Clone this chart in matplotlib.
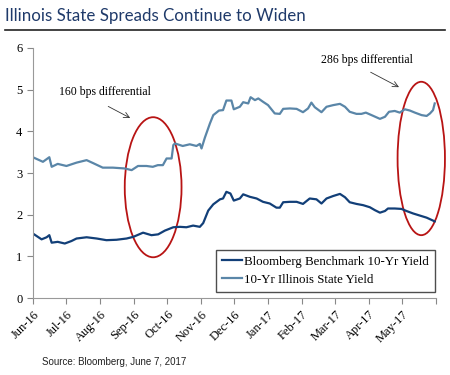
import matplotlib
matplotlib.use("Agg")
import matplotlib.pyplot as plt
from matplotlib.patches import Ellipse
from matplotlib.lines import Line2D

# x in months since Jun-16
months = ['Jun-16', 'Jul-16', 'Aug-16', 'Sep-16', 'Oct-16', 'Nov-16',
          'Dec-16', 'Jan-17', 'Feb-17', 'Mar-17', 'Apr-17', 'May-17']

bench_x = [0, 0.26, 0.41, 0.49, 0.56, 0.74, 0.95, 1.15, 1.30, 1.60,
           1.90, 2.19, 2.49, 2.79, 2.99, 3.28, 3.53, 3.73, 3.93, 4.18,
           4.38, 4.57, 4.77, 4.97, 5.07, 5.22, 5.37, 5.57, 5.66, 5.76,
           5.88, 5.98, 6.16, 6.26, 6.46, 6.66, 6.85, 7.05, 7.25, 7.35,
           7.45, 7.65, 7.85, 8.04, 8.24, 8.44, 8.59, 8.74, 8.94, 9.14,
           9.29, 9.43, 9.63, 9.83, 10.03, 10.18, 10.33, 10.48, 10.57, 10.77,
           10.97, 11.12, 11.32, 11.52, 11.72, 11.91, 11.96]
bench_y = [1.55, 1.41, 1.46, 1.51, 1.33, 1.35, 1.31, 1.37, 1.43, 1.46,
           1.43, 1.39, 1.40, 1.43, 1.47, 1.57, 1.51, 1.53, 1.62, 1.70,
           1.71, 1.70, 1.74, 1.71, 1.80, 2.10, 2.25, 2.37, 2.39, 2.55,
           2.51, 2.34, 2.39, 2.49, 2.43, 2.39, 2.31, 2.27, 2.17, 2.17,
           2.30, 2.31, 2.31, 2.26, 2.39, 2.37, 2.27, 2.39, 2.45, 2.50,
           2.42, 2.30, 2.26, 2.23, 2.18, 2.11, 2.05, 2.09, 2.15, 2.15,
           2.14, 2.09, 2.03, 1.98, 1.93, 1.86, 1.84]

il_x = [0, 0.30, 0.49, 0.56, 0.74, 1.00, 1.30, 1.60, 1.79, 2.08,
        2.38, 2.74, 2.94, 3.13, 3.38, 3.57, 3.72, 3.87, 3.98, 4.13,
        4.18, 4.23, 4.46, 4.67, 4.87, 4.97, 5.02, 5.12, 5.27, 5.37,
        5.54, 5.66, 5.76, 5.91, 5.98, 6.16, 6.26, 6.41, 6.48, 6.61,
        6.71, 6.85, 7.00, 7.20, 7.35, 7.45, 7.65, 7.85, 8.04, 8.19,
        8.29, 8.39, 8.59, 8.74, 8.94, 9.14, 9.29, 9.43, 9.63, 9.78,
        9.91, 10.08, 10.33, 10.48, 10.60, 10.77, 10.92, 11.07, 11.22, 11.37,
        11.57, 11.72, 11.82, 11.91, 11.96]
il_y = [3.38, 3.27, 3.38, 3.15, 3.22, 3.17, 3.25, 3.31, 3.24, 3.13,
        3.13, 3.11, 3.07, 3.17, 3.17, 3.15, 3.19, 3.19, 3.35, 3.35,
        3.67, 3.71, 3.65, 3.69, 3.65, 3.70, 3.59, 3.85, 4.19, 4.39,
        4.50, 4.51, 4.74, 4.74, 4.53, 4.59, 4.70, 4.67, 4.82, 4.75,
        4.79, 4.71, 4.63, 4.43, 4.42, 4.54, 4.55, 4.54, 4.46, 4.55,
        4.69, 4.58, 4.46, 4.59, 4.63, 4.66, 4.59, 4.47, 4.42, 4.42,
        4.45, 4.39, 4.30, 4.35, 4.47, 4.49, 4.45, 4.53, 4.50, 4.45,
        4.39, 4.37, 4.43, 4.51, 4.67]

navy = '#123f78'
steel = '#5a86a8'
red = '#b81414'
serif = ['Liberation Serif', 'DejaVu Serif']

fig = plt.figure(figsize=(4.5, 3.75), dpi=100)
ax = fig.add_axes([0.073, 0.205, 0.896, 0.667])

ax.plot(bench_x, bench_y, color=navy, lw=1.6, label='Bloomberg Benchmark 10-Yr Yield')
ax.plot(il_x, il_y, color=steel, lw=1.6, label='10-Yr Illinois State Yield')

ax.set_xlim(0, 12)
ax.set_ylim(0, 6)
ax.set_xticks(range(13))
ax.set_xticklabels(months + [''], rotation=45, ha='right', rotation_mode='anchor',
                   fontsize=9, family=serif)
ax.set_yticks(range(7))
ax.set_yticklabels([str(i) for i in range(7)], fontsize=9, family=serif)
ax.tick_params(colors='#888888', length=4, width=0.8, labelcolor='black')
for s in ['top', 'right']:
    ax.spines[s].set_visible(False)
for s in ['left', 'bottom']:
    ax.spines[s].set_color('#999999')

# ellipses
ax.add_patch(Ellipse((3.58, 2.66), 1.69, 3.36, fill=False, ec=red, lw=1.3, clip_on=False))
ax.add_patch(Ellipse((11.56, 3.35), 1.41, 3.68, fill=False, ec=red, lw=1.3, clip_on=False))

ax.annotate('', xy=(2.97, 4.29), xytext=(2.17, 4.63),
            arrowprops=dict(arrowstyle='->', color='#333333', lw=0.6))
ax.text(2.14, 4.94, '160 bps differential', fontsize=8.5, family=serif,
        ha='center', va='center')
ax.annotate('', xy=(10.97, 5.03), xytext=(9.98, 5.45),
            arrowprops=dict(arrowstyle='->', color='#333333', lw=0.6), annotation_clip=False)
ax.text(9.94, 5.71, '286 bps differential', fontsize=8.5, family=serif,
        ha='center', va='center')

leg = ax.legend(loc='lower right', bbox_to_anchor=(1.0, 0.02), prop={'family': serif, 'size': 9.3},
                frameon=True, fancybox=False, handlelength=1.6, handletextpad=0.15,
                borderpad=0.45, labelspacing=0.5, borderaxespad=0.1)
leg.get_frame().set_edgecolor('#222222')
leg.get_frame().set_linewidth(1.0)

fig.text(0.012, 0.958, 'Illinois State Spreads Continue to Widen', fontsize=12.2,
         family=['Lato', 'DejaVu Sans'], color='#1f3a6a', va='center')
fig.add_artist(Line2D([0.011, 0.989], [0.92, 0.92], color='#222222', lw=1.2))
fig.text(0.093, 0.035, 'Source: Bloomberg, June 7, 2017', fontsize=7,
         family=['Liberation Sans', 'DejaVu Sans'], color='#222222', va='center')

fig.savefig('out.png', dpi=100)
